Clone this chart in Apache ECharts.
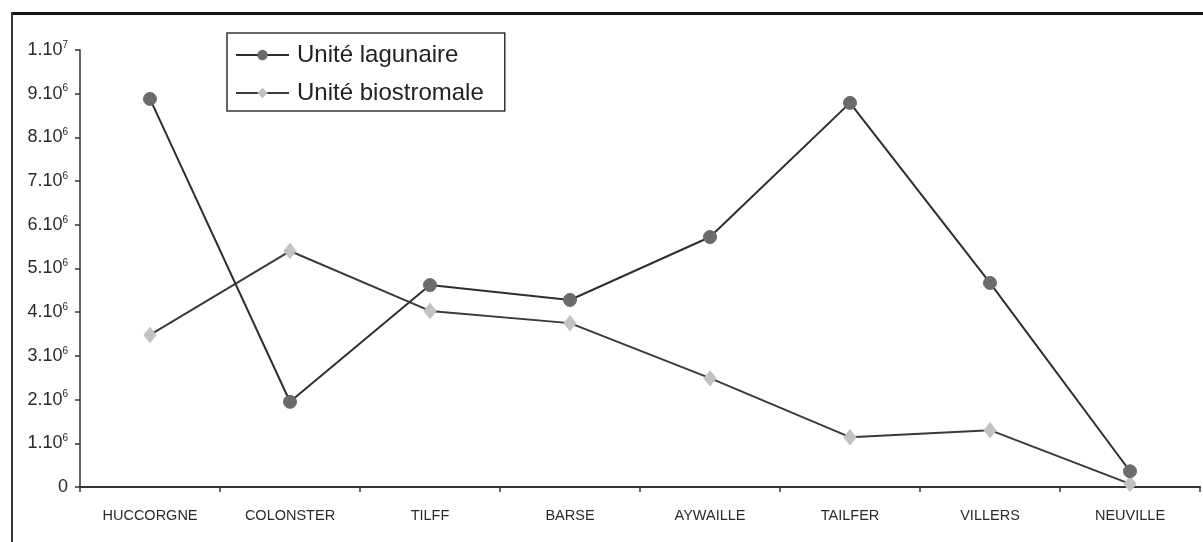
<!DOCTYPE html>
<html>
<head>
<meta charset="utf-8">
<script src="https://cdn.jsdelivr.net/npm/echarts@6/dist/echarts.min.js"></script>
<style>
  html, body { margin: 0; padding: 0; background: #fff; }
  #chart { width: 1203px; height: 542px; }
</style>
</head>
<body>
<div id="chart"></div>
<script>
// Sites along the section, left to right
const sites = ['HUCCORGNE', 'COLONSTER', 'TILFF', 'BARSE', 'AYWAILLE', 'TAILFER', 'VILLERS', 'NEUVILLE'];

// Values per site for each unit
const lagunaire = [8.88e6, 1.95e6, 4.62e6, 4.28e6, 5.72e6, 8.79e6, 4.67e6, 0.36e6];
const biostromale = [3.48e6, 5.40e6, 4.03e6, 3.75e6, 2.49e6, 1.14e6, 1.30e6, 0.07e6];

// Y tick labels written as mantissa.10^exponent
const yTickBase = ['0', '1.10', '2.10', '3.10', '4.10', '5.10', '6.10', '7.10', '8.10', '9.10', '1.10'];
const yTickExp  = ['',  '6',    '6',    '6',    '6',    '6',    '6',    '6',    '6',    '6',    '7'];

const seriesNames = ['Unité lagunaire', 'Unité biostromale'];

const chart = echarts.init(document.getElementById('chart'));
const font = '"Liberation Sans", Arial, sans-serif';

chart.setOption({
  animation: false,
  backgroundColor: '#fff',
  textStyle: { fontFamily: font },
  graphic: [
    { type: 'line', shape: { x1: 11, y1: 13.5, x2: 1203, y2: 13.5 }, style: { stroke: '#151515', lineWidth: 3 } },
    { type: 'line', shape: { x1: 12, y1: 12, x2: 12, y2: 542 }, style: { stroke: '#333', lineWidth: 2 } }
  ],
  grid: { left: 80, right: 3, top: 50, bottom: 55, containLabel: false },
  legend: {
    left: 227, top: 33,
    orient: 'vertical',
    data: seriesNames,
    itemWidth: 53, itemHeight: 13, itemGap: 14,
    padding: [10, 21, 6, 8],
    borderColor: '#333', borderWidth: 1.5,
    textStyle: { fontSize: 24, color: '#222', fontFamily: font, padding: [0, 0, 0, 3] }
  },
  xAxis: {
    type: 'category',
    data: sites,
    boundaryGap: true,
    axisLine: { lineStyle: { color: '#333', width: 2 } },
    axisTick: { show: true, length: 5, lineStyle: { color: '#333', width: 1.5 } },
    axisLabel: { color: '#2a2a2a', fontSize: 14.5, margin: 21, interval: 0, fontFamily: font },
    splitLine: { show: false }
  },
  yAxis: {
    type: 'value',
    min: 0, max: 1e7, interval: 1e6,
    axisLine: { show: true, lineStyle: { color: '#333', width: 1.5 } },
    axisTick: { show: true, length: 5, lineStyle: { color: '#333', width: 1.5 } },
    splitLine: { show: false },
    axisLabel: {
      margin: 12,
      color: '#2a2a2a',
      fontSize: 18,
      fontFamily: font,
      formatter: function (v) {
        const i = Math.round(v / 1e6);
        if (!yTickExp[i]) return yTickBase[i];
        return '{b|' + yTickBase[i] + '}{s|' + yTickExp[i] + '}';
      },
      rich: {
        b: { fontSize: 18, color: '#2a2a2a', fontFamily: font },
        s: { fontSize: 10, color: '#2a2a2a', fontFamily: font, padding: [0, 0, 10, 0] }
      }
    }
  },
  series: [
    {
      name: seriesNames[0],
      type: 'line',
      data: lagunaire,
      symbol: 'circle',
      symbolSize: 13,
      lineStyle: { color: '#2e2e2e', width: 2 },
      itemStyle: { color: '#6b6b6b', borderColor: '#6b6b6b' },
      z: 3
    },
    {
      name: seriesNames[1],
      type: 'line',
      data: biostromale,
      symbol: 'diamond',
      symbolSize: [12, 15],
      lineStyle: { color: '#3a3a3a', width: 2 },
      itemStyle: { color: '#c2c2c2', borderColor: '#c2c2c2' },
      z: 2
    }
  ]
});
</script>
</body>
</html>
